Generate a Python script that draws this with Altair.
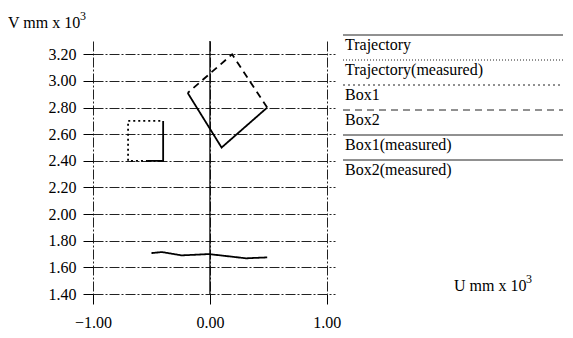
import altair as alt
import pandas as pd

FONT = "Liberation Serif"

# axis ticks
x_ticks = [-1.0, 0.0, 1.0]
y_ticks = [1.4, 1.6, 1.8, 2.0, 2.2, 2.4, 2.6, 2.8, 3.0, 3.2]

# series (U, V in mm x 10^3)
traj_u = [-0.50, -0.41, -0.24, -0.01, 0.14, 0.31, 0.49]
traj_v = [1.707, 1.715, 1.690, 1.700, 1.685, 1.668, 1.675]

box1_u = [-0.53, -0.70, -0.70, -0.40]
box1_v = [2.40, 2.40, 2.70, 2.70]

box1m_u = [-0.40, -0.40, -0.53]
box1m_v = [2.70, 2.40, 2.40]

box2_u = [0.49, 0.19, -0.19]
box2_v = [2.80, 3.20, 2.91]

box2m_u = [-0.19, 0.10, 0.49]
box2m_v = [2.91, 2.50, 2.80]

legend_names = ["Trajectory", "Trajectory(measured)", "Box1", "Box2",
                "Box1(measured)", "Box2(measured)"]
legend_dashes = [[1, 0], [1, 2], [2, 3], [7, 5], [1, 0], [1, 0]]

y_title = "V mm x 10"
x_title = "U mm x 10"
exponent = "3"

rows = []
for name, us, vs in [("Trajectory", traj_u, traj_v),
                     ("Box1", box1_u, box1_v),
                     ("Box1(measured)", box1m_u, box1m_v),
                     ("Box2", box2_u, box2_v),
                     ("Box2(measured)", box2m_u, box2m_v)]:
    for i, (u, v) in enumerate(zip(us, vs)):
        rows.append({"series": name, "u": u, "v": v, "i": i})
df = pd.DataFrame(rows)

dash_scale = alt.Scale(domain=legend_names, range=legend_dashes)

xs = alt.Scale(domain=[-1.0, 1.07], nice=False, zero=False)
ys = alt.Scale(domain=[1.4, 3.3], nice=False, zero=False)

lines = alt.Chart(df).mark_line(color="black", strokeWidth=1.8).encode(
    x=alt.X("u:Q", scale=xs, axis=alt.Axis(
        values=x_ticks, format=".2f", title=None, grid=True, domain=False,
        tickSize=10, tickColor="black", labelPadding=10, gridColor="#222",
        gridDash=[10, 2, 2, 2], labelFlush=False, labelFont=FONT,
        labelFontSize=16, labelColor="black")),
    y=alt.Y("v:Q", scale=ys, axis=alt.Axis(
        values=y_ticks, format=".2f", title=None, grid=True, domain=False,
        tickSize=10, tickColor="black", labelPadding=7, gridColor="#222",
        gridDash=[10, 2, 2, 2], labelFlush=False, labelFont=FONT,
        labelFontSize=16, labelColor="black")),
    detail="series:N",
    order="i:Q",
    strokeDash=alt.StrokeDash("series:N", scale=dash_scale, legend=None),
)

zero = alt.Chart(pd.DataFrame({"u": [0.0]})).mark_rule(
    color="black", strokeWidth=1.2).encode(x=alt.X("u:Q", scale=xs))

leg_df = pd.DataFrame({"name": legend_names})
leg_y = alt.Y("name:N", scale=alt.Scale(type="point", domain=legend_names,
                                        range=[-6, 119], padding=0), axis=None)
leg_rules = alt.Chart(leg_df).mark_rule(color="#222", strokeWidth=1).encode(
    y=leg_y, x=alt.value(250), x2=alt.value(470),
    strokeDash=alt.StrokeDash("name:N", scale=dash_scale, legend=None))
leg_text = alt.Chart(leg_df).mark_text(
    align="left", baseline="alphabetic", dy=15, font=FONT, fontSize=16,
    color="black").encode(y=leg_y, x=alt.value(252), text="name:N")

def title_marks(text, x, y):
    base = alt.Chart(pd.DataFrame({"t": [text]})).mark_text(
        align="left", baseline="alphabetic", font=FONT, fontSize=16,
        color="black").encode(x=alt.value(x), y=alt.value(y), text="t:N")
    sup = alt.Chart(pd.DataFrame({"t": [exponent]})).mark_text(
        align="left", baseline="alphabetic", font=FONT, fontSize=12,
        color="black").encode(x=alt.value(x + 72), y=alt.value(y - 8),
                              text="t:N")
    return base, sup

yt, yts = title_marks(y_title, -85, -13)
xt, xts = title_marks(x_title, 361, 250)

chart = alt.layer(lines, zero, leg_rules, leg_text, yt, yts, xt, xts).resolve_scale(
    y="independent"
).properties(
    width=242, height=253,
    padding={"left": 85, "top": 33, "right": 230, "bottom": 36},
    autosize=alt.AutoSizeParams(type="none"),
    background="white",
).configure_view(stroke=None)

chart.save("out.html", embed_options={"renderer": "svg", "actions": False})
